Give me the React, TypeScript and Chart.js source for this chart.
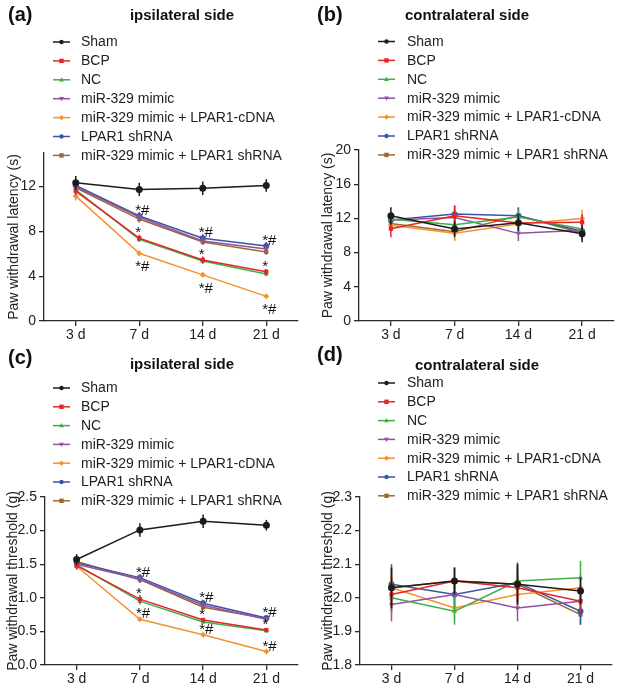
import React, { useEffect, useRef } from 'react';
import { Chart, registerables } from 'chart.js';
Chart.register(...registerables);

const FONT = '"Liberation Sans", Arial, Helvetica, sans-serif';

// ---------- data ----------
const days = ['3 d', '7 d', '14 d', '21 d'];
const groups = [
  'Sham',
  'BCP',
  'NC',
  'miR-329 mimic',
  'miR-329 mimic + LPAR1-cDNA',
  'LPAR1 shRNA',
  'miR-329 mimic + LPAR1 shRNA',
];
const groupColors = ['#1c1c1c', '#e42528', '#3fae49', '#9052a2', '#f6922d', '#3b55a5', '#9c6a30'];
const groupShapes = ['circle', 'rect', 'triangle', 'triangle', 'rectRot', 'circle', 'rect'];
const groupRotations = [0, 0, 0, 180, 0, 0, 0];

// (a) ipsilateral, paw withdrawal latency (s): rows follow `groups`
const latencyIpsi = [
  [12.35, 11.75, 11.85, 12.1],
  [11.6, 7.4, 5.45, 4.4],
  [11.7, 7.3, 5.35, 4.2],
  [12.0, 9.27, 7.15, 6.43],
  [11.15, 6.05, 4.12, 2.2],
  [12.1, 9.38, 7.39, 6.7],
  [11.9, 9.1, 7.06, 6.17],
];
const latencyIpsiErr = [
  [0.6, 0.6, 0.6, 0.55],
  [0.35, 0.3, 0.3, 0.25],
  [0.3, 0.25, 0.25, 0.2],
  [0.35, 0.4, 0.3, 0.3],
  [0.4, 0.2, 0.2, 0.15],
  [0.3, 0.35, 0.35, 0.35],
  [0.3, 0.3, 0.25, 0.25],
];

// (b) contralateral, paw withdrawal latency (s)
const latencyContra = [
  [12.3, 10.75, 11.5, 10.2],
  [10.8, 12.3, 11.45, 11.55],
  [11.9, 11.25, 12.15, 10.75],
  [11.8, 12.1, 10.25, 10.6],
  [11.2, 10.25, 11.35, 12.0],
  [11.8, 12.5, 12.3, 10.5],
  [11.4, 10.45, 12.3, 10.3],
];
const latencyContraErr = [
  [1.0, 0.9, 1.0, 1.0],
  [1.0, 1.2, 0.9, 0.9],
  [0.8, 0.8, 0.9, 0.8],
  [0.8, 1.0, 0.9, 0.8],
  [0.8, 0.9, 0.8, 1.0],
  [0.9, 1.0, 1.0, 0.9],
  [0.8, 0.9, 0.9, 0.8],
];

// (c) ipsilateral, paw withdrawal threshold (g)
const thresholdIpsi = [
  [1.57, 2.01, 2.14, 2.08],
  [1.48, 0.98, 0.67, 0.52],
  [1.49, 0.95, 0.64, 0.51],
  [1.5, 1.28, 0.89, 0.68],
  [1.47, 0.68, 0.45, 0.2],
  [1.52, 1.3, 0.92, 0.7],
  [1.54, 1.27, 0.86, 0.69],
];
const thresholdIpsiErr = [
  [0.08, 0.1, 0.1, 0.08],
  [0.06, 0.06, 0.03, 0.03],
  [0.05, 0.05, 0.03, 0.03],
  [0.05, 0.06, 0.05, 0.04],
  [0.05, 0.03, 0.02, 0.02],
  [0.05, 0.05, 0.05, 0.04],
  [0.05, 0.05, 0.04, 0.03],
];

// (d) contralateral, paw withdrawal threshold (g)
const thresholdContra = [
  [2.03, 2.05, 2.04, 2.02],
  [2.01, 2.05, 2.03, 1.99],
  [2.0, 1.96, 2.05, 2.06],
  [1.98, 2.01, 1.97, 1.99],
  [2.03, 1.97, 2.01, 2.03],
  [2.04, 2.01, 2.045, 1.96],
  [2.03, 2.05, 2.04, 1.95],
];
const thresholdContraErr = [
  [0.06, 0.04, 0.06, 0.04],
  [0.05, 0.04, 0.04, 0.03],
  [0.05, 0.04, 0.04, 0.05],
  [0.05, 0.04, 0.04, 0.03],
  [0.05, 0.04, 0.04, 0.04],
  [0.06, 0.04, 0.06, 0.04],
  [0.06, 0.04, 0.06, 0.03],
];

// significance marks: [group index, day index, text, side]
type Mark = [number, number, string, 'above' | 'below'];
const marksLatencyIpsi: Mark[] = [
  [5, 1, '*#', 'above'], [5, 2, '*#', 'above'], [5, 3, '*#', 'above'],
  [1, 1, '*', 'above'], [1, 2, '*', 'above'], [1, 3, '*', 'above'],
  [4, 1, '*#', 'below'], [4, 2, '*#', 'below'], [4, 3, '*#', 'below'],
];
const marksThresholdIpsi: Mark[] = [
  [5, 1, '*#', 'above'], [5, 2, '*#', 'above'], [5, 3, '*#', 'above'],
  [1, 1, '*', 'above'], [1, 2, '*', 'above'], [1, 3, '*', 'above'],
  [4, 1, '*#', 'above'], [4, 2, '*#', 'above'], [4, 3, '*#', 'above'],
];

// ---------- panel configuration ----------
type PanelCfg = {
  x: number; y: number; w: number; h: number;
  label: string; title: string; yTitle: string;
  means: number[][]; errs: number[][]; marks: Mark[];
  yMin: number; yMax: number; yTickMax: number; yStep: number; decimals: number;
  area: { left: number; right: number; top: number; bottom: number };
  legend: { x0: number; x1: number; tx: number; y0: number; dy: number };
  titleX: number; titleY: number; labelX: number; labelY: number; yTitlePad: number;
};

const panels: PanelCfg[] = [
  {
    x: 0, y: 0, w: 310, h: 345, label: '(a)', title: 'ipsilateral side', yTitle: 'Paw withdrawal latency (s)',
    means: latencyIpsi, errs: latencyIpsiErr, marks: marksLatencyIpsi,
    yMin: 0, yMax: 15, yTickMax: 12, yStep: 4, decimals: 0,
    area: { left: 44, right: 298, top: 153, bottom: 321 },
    legend: { x0: 53, x1: 70, tx: 81, y0: 42, dy: 18.9 },
    titleX: 182, titleY: 16, labelX: 8, labelY: 15, yTitlePad: 5.5,
  },
  {
    x: 310, y: 0, w: 310, h: 345, label: '(b)', title: 'contralateral side', yTitle: 'Paw withdrawal latency (s)',
    means: latencyContra, errs: latencyContraErr, marks: [],
    yMin: 0, yMax: 20, yTickMax: 20, yStep: 4, decimals: 0,
    area: { left: 49, right: 304, top: 150, bottom: 321 },
    legend: { x0: 68, x1: 85, tx: 97, y0: 41.5, dy: 18.9 },
    titleX: 157, titleY: 16, labelX: 7, labelY: 15, yTitlePad: 9.5,
  },
  {
    x: 0, y: 345, w: 310, h: 343, label: '(c)', title: 'ipsilateral side', yTitle: 'Paw withdrawal threshold (g)',
    means: thresholdIpsi, errs: thresholdIpsiErr, marks: marksThresholdIpsi,
    yMin: 0, yMax: 2.5, yTickMax: 2.5, yStep: 0.5, decimals: 1,
    area: { left: 45, right: 298, top: 152, bottom: 320 },
    legend: { x0: 53, x1: 70, tx: 81, y0: 43, dy: 18.8 },
    titleX: 182, titleY: 20, labelX: 8, labelY: 13, yTitlePad: 4.5,
  },
  {
    x: 310, y: 345, w: 310, h: 343, label: '(d)', title: 'contralateral side', yTitle: 'Paw withdrawal threshold (g)',
    means: thresholdContra, errs: thresholdContraErr, marks: [],
    yMin: 1.8, yMax: 2.3, yTickMax: 2.3, yStep: 0.1, decimals: 1,
    area: { left: 50, right: 302, top: 152, bottom: 320 },
    legend: { x0: 68, x1: 85, tx: 97, y0: 38, dy: 18.8 },
    titleX: 167, titleY: 21, labelX: 7, labelY: 10, yTitlePad: 9.5,
  },
];

// ---------- drawing helpers ----------
function drawMarker(ctx: CanvasRenderingContext2D, shape: string, rot: number, x: number, y: number, r: number) {
  ctx.beginPath();
  if (shape === 'circle') {
    ctx.arc(x, y, r, 0, Math.PI * 2);
  } else if (shape === 'rect') {
    ctx.rect(x - r, y - r, 2 * r, 2 * r);
  } else if (shape === 'rectRot') {
    ctx.moveTo(x, y - r * 1.2); ctx.lineTo(x + r * 1.2, y); ctx.lineTo(x, y + r * 1.2); ctx.lineTo(x - r * 1.2, y);
    ctx.closePath();
  } else if (shape === 'triangle') {
    const s = rot === 180 ? -1 : 1;
    ctx.moveTo(x, y - s * r * 1.2); ctx.lineTo(x + r * 1.1, y + s * r * 0.8); ctx.lineTo(x - r * 1.1, y + s * r * 0.8);
    ctx.closePath();
  }
  ctx.fill();
}

function makePlugin(cfg: PanelCfg) {
  return {
    id: 'figure_' + cfg.label,
    beforeDatasetDraw(chart: any, args: any) {
      const i = args.index;
      const yScale = chart.scales.y;
      const ctx: CanvasRenderingContext2D = chart.ctx;
      ctx.save();
      ctx.strokeStyle = groupColors[i];
      ctx.lineWidth = 1.5;
      args.meta.data.forEach((pt: any, j: number) => {
        const v = cfg.means[i][j];
        const e = cfg.errs[i][j];
        ctx.beginPath();
        ctx.moveTo(pt.x, yScale.getPixelForValue(v + e));
        ctx.lineTo(pt.x, yScale.getPixelForValue(v - e));
        ctx.stroke();
      });
      ctx.restore();
    },
    afterDraw(chart: any) {
      const ctx: CanvasRenderingContext2D = chart.ctx;
      ctx.save();
      // panel letter
      ctx.fillStyle = '#111';
      ctx.font = `bold 20px ${FONT}`;
      ctx.textAlign = 'left';
      ctx.textBaseline = 'middle';
      ctx.fillText(cfg.label, cfg.labelX, cfg.labelY);
      // title
      ctx.font = `bold 15px ${FONT}`;
      ctx.textAlign = 'center';
      ctx.fillText(cfg.title, cfg.titleX, cfg.titleY);
      // legend
      const L = cfg.legend;
      ctx.font = `14px ${FONT}`;
      ctx.textAlign = 'left';
      groups.forEach((g, i) => {
        const yy = L.y0 + i * L.dy;
        ctx.strokeStyle = groupColors[i];
        ctx.fillStyle = groupColors[i];
        ctx.lineWidth = 1.5;
        ctx.beginPath();
        ctx.moveTo(L.x0, yy);
        ctx.lineTo(L.x1, yy);
        ctx.stroke();
        drawMarker(ctx, groupShapes[i], groupRotations[i], (L.x0 + L.x1) / 2, yy, 2.2);
        ctx.fillStyle = '#222';
        ctx.fillText(g, L.tx, yy + 0.5);
      });
      // significance marks
      ctx.font = `15px ${FONT}`;
      ctx.fillStyle = '#111';
      ctx.textBaseline = 'alphabetic';
      cfg.marks.forEach(([gi, di, text, side]) => {
        const pt = chart.getDatasetMeta(gi).data[di];
        if (!pt) return;
        const yy = side === 'above' ? pt.y - 1 : pt.y + 18;
        ctx.fillText(text, pt.x - 4, yy);
      });
      ctx.restore();
    },
  };
}

function Panel({ cfg }: { cfg: PanelCfg }) {
  const ref = useRef<HTMLCanvasElement>(null);
  useEffect(() => {
    const axisColor = '#2a2a2a';
    const chart = new Chart(ref.current as HTMLCanvasElement, {
      type: 'line',
      data: {
        labels: days,
        datasets: groups.map((g, i) => ({
          label: g,
          data: cfg.means[i],
          borderColor: groupColors[i],
          backgroundColor: groupColors[i],
          borderWidth: 1.5,
          pointStyle: groupShapes[i] as any,
          rotation: groupRotations[i],
          pointRadius: i === 0 ? 3.5 : 3,
          pointBorderWidth: 0,
          tension: 0,
          clip: false as any,
        })),
      },
      options: {
        animation: false,
        responsive: false,
        maintainAspectRatio: false,
        events: [],
        layout: {
          padding: { left: 0, right: cfg.w - cfg.area.right, top: cfg.area.top, bottom: 0 },
        },
        plugins: {
          legend: { display: false },
          tooltip: { enabled: false },
          title: { display: false },
        },
        scales: {
          x: {
            type: 'category',
            offset: true,
            grid: { display: true, drawOnChartArea: false, drawTicks: true, tickLength: 5, color: axisColor, lineWidth: 1.3, offset: false },
            border: { display: true, color: axisColor, width: 1.3 },
            ticks: { color: '#222', font: { family: FONT, size: 14 }, padding: 1, maxRotation: 0, autoSkip: false },
            afterFit: (s: any) => { s.height = cfg.h - cfg.area.bottom; },
          },
          y: {
            type: 'linear',
            min: cfg.yMin,
            max: cfg.yMax,
            afterBuildTicks: (s: any) => {
              s.ticks = s.ticks.filter((t: any) => t.value <= cfg.yTickMax + 1e-9);
            },
            grid: { display: true, drawOnChartArea: false, drawTicks: true, tickLength: 5, color: axisColor, lineWidth: 1.3 },
            border: { display: true, color: axisColor, width: 1.3 },
            ticks: {
              stepSize: cfg.yStep,
              color: '#222',
              font: { family: FONT, size: 14 },
              padding: 3,
              callback: (v: any) => Number(v).toFixed(cfg.decimals),
            },
            title: {
              display: true,
              text: cfg.yTitle,
              color: '#222',
              font: { family: FONT, size: 14 },
              padding: { top: cfg.yTitlePad, bottom: 0 },
            },
            afterFit: (s: any) => { s.width = cfg.area.left; },
          },
        },
      } as any,
      plugins: [makePlugin(cfg)],
    });
    return () => chart.destroy();
  }, []);
  return (
    <canvas
      ref={ref}
      width={cfg.w}
      height={cfg.h}
      style={{ position: 'absolute', left: cfg.x, top: cfg.y, width: cfg.w, height: cfg.h }}
    />
  );
}

export default function App() {
  return (
    <div style={{ position: 'fixed', left: 0, top: 0, width: 620, height: 688, background: '#fff', overflow: 'hidden' }}>
      {panels.map((p) => (
        <Panel key={p.label} cfg={p} />
      ))}
    </div>
  );
}
